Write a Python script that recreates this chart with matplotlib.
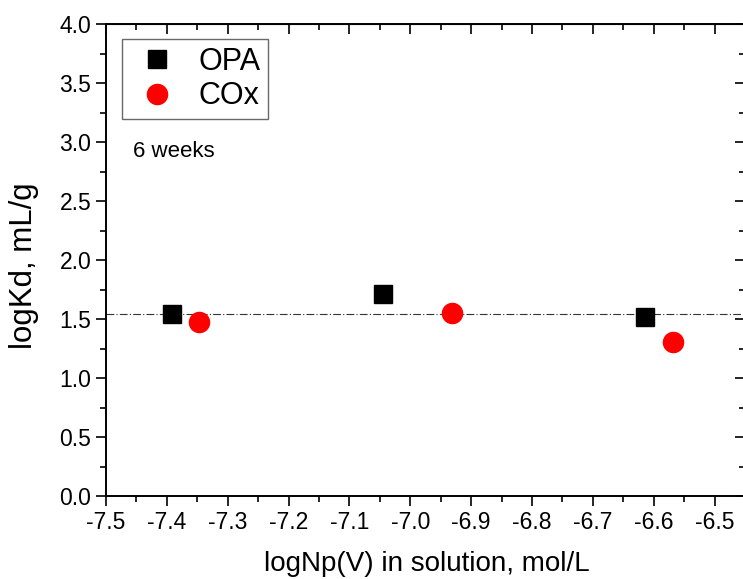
import matplotlib
matplotlib.use("Agg")
import matplotlib.pyplot as plt
from matplotlib.ticker import MultipleLocator, FormatStrFormatter

plt.rcParams['font.family'] = ['Liberation Sans', 'DejaVu Sans']

# data
opa_x = [-7.392, -7.045, -6.615]
opa_y = [1.545, 1.714, 1.517]
cox_x = [-7.347, -6.932, -6.569]
cox_y = [1.475, 1.548, 1.303]
mean_kd = 1.545
labels = ['OPA', 'COx']

W, H = 743, 579
fig = plt.figure(figsize=(W / 100, H / 100), dpi=100)
ax = fig.add_axes([106 / W, (H - 496) / H, (745 - 106) / W, (496 - 24) / H])

ax.axhline(mean_kd, color='#333333', lw=0.8, ls=(0, (7, 2, 1, 2)), zorder=1)
ax.plot(opa_x, opa_y, ls='none', marker='s', ms=13, color='black', label=labels[0], zorder=3)
ax.plot(cox_x, cox_y, ls='none', marker='o', ms=14.5, color='red', label=labels[1], zorder=3)

ax.set_xlim(-7.5, -6.45)
ax.set_ylim(0, 4.0)
ax.xaxis.set_major_locator(MultipleLocator(0.1))
ax.xaxis.set_minor_locator(MultipleLocator(0.05))
ax.yaxis.set_major_locator(MultipleLocator(0.5))
ax.yaxis.set_minor_locator(MultipleLocator(0.25))
ax.xaxis.set_major_formatter(FormatStrFormatter('%.1f'))
ax.yaxis.set_major_formatter(FormatStrFormatter('%.1f'))

ax.tick_params(which='both', direction='out', top=False, right=False, width=1.2, labelsize=16.5)
ax.tick_params(which='major', length=7)
ax.tick_params(which='minor', length=4)
for s in ax.spines.values():
    s.set_linewidth(1.4)

# inward ticks on top and right
axt = ax.secondary_xaxis('top')
axt.xaxis.set_major_locator(MultipleLocator(0.1))
axt.xaxis.set_minor_locator(MultipleLocator(0.05))
axt.tick_params(which='both', direction='in', labeltop=False, width=1.2)
axt.tick_params(which='major', length=7)
axt.tick_params(which='minor', length=4)
axr = ax.secondary_yaxis('right')
axr.yaxis.set_major_locator(MultipleLocator(0.5))
axr.yaxis.set_minor_locator(MultipleLocator(0.25))
axr.tick_params(which='both', direction='in', labelright=False, width=1.2)
axr.tick_params(which='major', length=7)
axr.tick_params(which='minor', length=4)

fig.text(427 / W, 1 - 564 / H, 'logNp(V) in solution, mol/L', fontsize=20,
         ha='center', va='center')
fig.text(24 / W, 1 - 266 / H, 'logKd, mL/g', fontsize=22.5, rotation=90,
         ha='center', va='center')

ax.text(-7.455, 2.87, '6 weeks', fontsize=16)

leg = ax.legend(loc='upper left', bbox_to_anchor=(0.025, 0.968), fontsize=22,
                frameon=True, fancybox=False, edgecolor='#444444',
                handletextpad=0.45, borderpad=0.25, labelspacing=0.15,
                handlelength=1.8, borderaxespad=0)
leg.get_frame().set_linewidth(1.0)

fig.savefig('out.png', dpi=100)
